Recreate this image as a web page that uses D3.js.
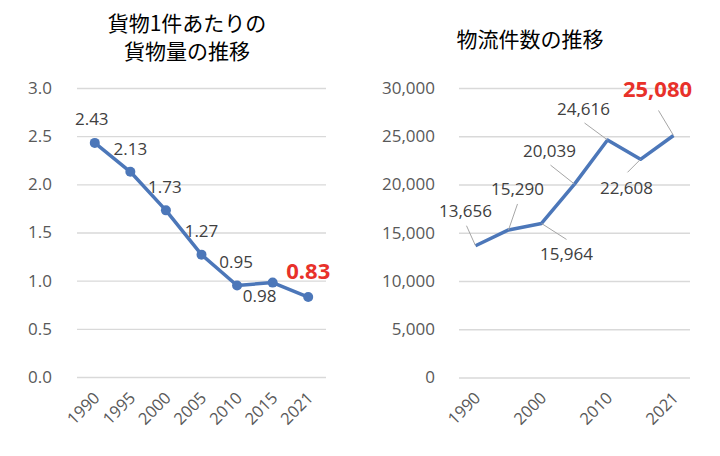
<!DOCTYPE html>
<html>
<head>
<meta charset="utf-8">
<script src="https://cdn.jsdelivr.net/npm/d3@7"></script>
<style>
  body { margin: 0; background: #fff; }
  svg { display: block; }
</style>
</head>
<body>
<svg id="chart"></svg>
<script>
// data
var years = ['1990', '1995', '2000', '2005', '2010', '2015', '2021']
var perItem = [2.43, 2.13, 1.73, 1.27, 0.95, 0.98, 0.83]
var counts = [13656, 15290, 15964, 20039, 24616, 22608, 25080]
var leftTicks = [0, 0.5, 1, 1.5, 2, 2.5, 3]
var rightTicks = [0, 5000, 10000, 15000, 20000, 25000, 30000]
var rightYearLabels = ['1990', '2000', '2010', '2021']
var leftTitle = ['貨物1件あたりの', '貨物量の推移']
var rightTitle = '物流件数の推移'

// label placement (offsets from each point)
var leftLabelPos = [[-3, -24], [0, -23], [-1, -23], [0, -24], [-1, -23], [-13, 13], [0, -26]]
// [label dx, dy, leader start dx, dy]
var rightLabelPos = [
  [-10, -35, -9, -20],
  [9, -41, 9, -26],
  [25, 31, 25, 16],
  [-25, -33, -24, -19],
  [-24, -31, -23, -17],
  [-14, 29, -13, 13],
  [-16, -46, -15, -25]
]

var width = 720
var height = 456
var blue = '#4c77b9'
var grid = '#d9d9d9'
var tickColor = '#595959'
var labelColor = '#404040'
var red = '#e8312a'
var numFont = "'Open Sans', sans-serif"
var jpFont = "'Noto Sans CJK JP', sans-serif"

var svg = d3.select('#chart').attr('width', width).attr('height', height)

// ---------- left chart
var xL = d3.scaleBand().domain(years).range([77, 326])
var yL = d3.scaleLinear().domain([0, 3]).range([377, 88])

var gL = svg.append('g')

gL.append('g')
  .attr('transform', 'translate(77,0)')
  .call(d3.axisLeft(yL).tickValues(leftTicks).tickFormat(d3.format('.1f')).tickSize(0).tickPadding(25))
  .call(g => g.select('.domain').remove())
  .call(g => g.selectAll('.tick line').clone()
    .attr('x2', 326 - 77).attr('stroke', grid).attr('stroke-width', 1.3))
  .call(g => g.selectAll('.tick text')
    .attr('fill', tickColor).attr('font-size', 17).attr('font-family', numFont))

gL.append('g')
  .selectAll('text')
  .data(years)
  .join('text')
  .attr('transform', d => `translate(${xL(d) + xL.bandwidth() / 2 + 6},${399}) rotate(-45)`)
  .attr('text-anchor', 'end')
  .attr('fill', tickColor)
  .attr('font-size', 16.5)
  .attr('font-family', numFont)
  .text(d => d)

var lineL = d3.line()
  .x((d, i) => xL(years[i]) + xL.bandwidth() / 2)
  .y(d => yL(d))

gL.append('path')
  .datum(perItem)
  .attr('fill', 'none')
  .attr('stroke', blue)
  .attr('stroke-width', 3.5)
  .attr('stroke-linejoin', 'round')
  .attr('d', lineL)

gL.append('g')
  .selectAll('circle')
  .data(perItem)
  .join('circle')
  .attr('cx', (d, i) => xL(years[i]) + xL.bandwidth() / 2)
  .attr('cy', d => yL(d))
  .attr('r', 5)
  .attr('fill', blue)

gL.append('g')
  .selectAll('text')
  .data(perItem)
  .join('text')
  .attr('x', (d, i) => xL(years[i]) + xL.bandwidth() / 2 + leftLabelPos[i][0])
  .attr('y', (d, i) => yL(d) + leftLabelPos[i][1])
  .attr('dy', '0.35em')
  .attr('text-anchor', 'middle')
  .attr('font-family', numFont)
  .attr('font-size', (d, i) => i === perItem.length - 1 ? 22 : 17)
  .attr('font-weight', (d, i) => i === perItem.length - 1 ? 'bold' : 'normal')
  .attr('fill', (d, i) => i === perItem.length - 1 ? red : labelColor)
  .text(d => d.toFixed(2))

gL.append('text')
  .attr('x', 187)
  .attr('y', 24)
  .attr('text-anchor', 'middle')
  .attr('font-family', jpFont)
  .attr('font-size', 21)
  .attr('font-weight', 'normal')
  .attr('fill', '#000')
  .selectAll('tspan')
  .data(leftTitle)
  .join('tspan')
  .attr('x', 187)
  .attr('dy', (d, i) => i === 0 ? '0.35em' : 28)
  .text(d => d)

// ---------- right chart
var xR = d3.scaleBand().domain(years).range([459, 690])
var yR = d3.scaleLinear().domain([0, 30000]).range([377.5, 88])

var gR = svg.append('g')

gR.append('g')
  .attr('transform', 'translate(459,0)')
  .call(d3.axisLeft(yR).tickValues(rightTicks).tickFormat(d3.format(',')).tickSize(0).tickPadding(24))
  .call(g => g.select('.domain').remove())
  .call(g => g.selectAll('.tick line').clone()
    .attr('x2', 690 - 459).attr('stroke', grid).attr('stroke-width', 1.3))
  .call(g => g.selectAll('.tick text')
    .attr('fill', tickColor).attr('font-size', 17).attr('font-family', numFont))

gR.append('g')
  .selectAll('text')
  .data(rightYearLabels)
  .join('text')
  .attr('transform', d => `translate(${xR(d) + xR.bandwidth() / 2 + 6},${399}) rotate(-45)`)
  .attr('text-anchor', 'end')
  .attr('fill', tickColor)
  .attr('font-size', 16.5)
  .attr('font-family', numFont)
  .text(d => d)

var lineR = d3.line()
  .x((d, i) => xR(years[i]) + xR.bandwidth() / 2)
  .y(d => yR(d))

gR.append('path')
  .datum(counts)
  .attr('fill', 'none')
  .attr('stroke', blue)
  .attr('stroke-width', 3.5)
  .attr('stroke-linejoin', 'round')
  .attr('d', lineR)

// leader lines
gR.append('g')
  .selectAll('line')
  .data(counts)
  .join('line')
  .attr('x1', (d, i) => xR(years[i]) + xR.bandwidth() / 2 + rightLabelPos[i][2])
  .attr('y1', (d, i) => yR(d) + rightLabelPos[i][3])
  .attr('x2', (d, i) => xR(years[i]) + xR.bandwidth() / 2)
  .attr('y2', d => yR(d))
  .attr('stroke', '#a6a6a6')
  .attr('stroke-width', 1)

gR.append('g')
  .selectAll('text')
  .data(counts)
  .join('text')
  .attr('x', (d, i) => xR(years[i]) + xR.bandwidth() / 2 + rightLabelPos[i][0])
  .attr('y', (d, i) => yR(d) + rightLabelPos[i][1])
  .attr('dy', '0.35em')
  .attr('text-anchor', 'middle')
  .attr('font-family', numFont)
  .attr('font-size', (d, i) => i === counts.length - 1 ? 22 : 17)
  .attr('font-weight', (d, i) => i === counts.length - 1 ? 'bold' : 'normal')
  .attr('fill', (d, i) => i === counts.length - 1 ? red : labelColor)
  .text(d => d3.format(',')(d))

gR.append('text')
  .attr('x', 530)
  .attr('y', 40)
  .attr('dy', '0.35em')
  .attr('text-anchor', 'middle')
  .attr('font-family', jpFont)
  .attr('font-size', 21)
  .attr('font-weight', 'normal')
  .attr('fill', '#000')
  .text(rightTitle)
</script>
</body>
</html>
